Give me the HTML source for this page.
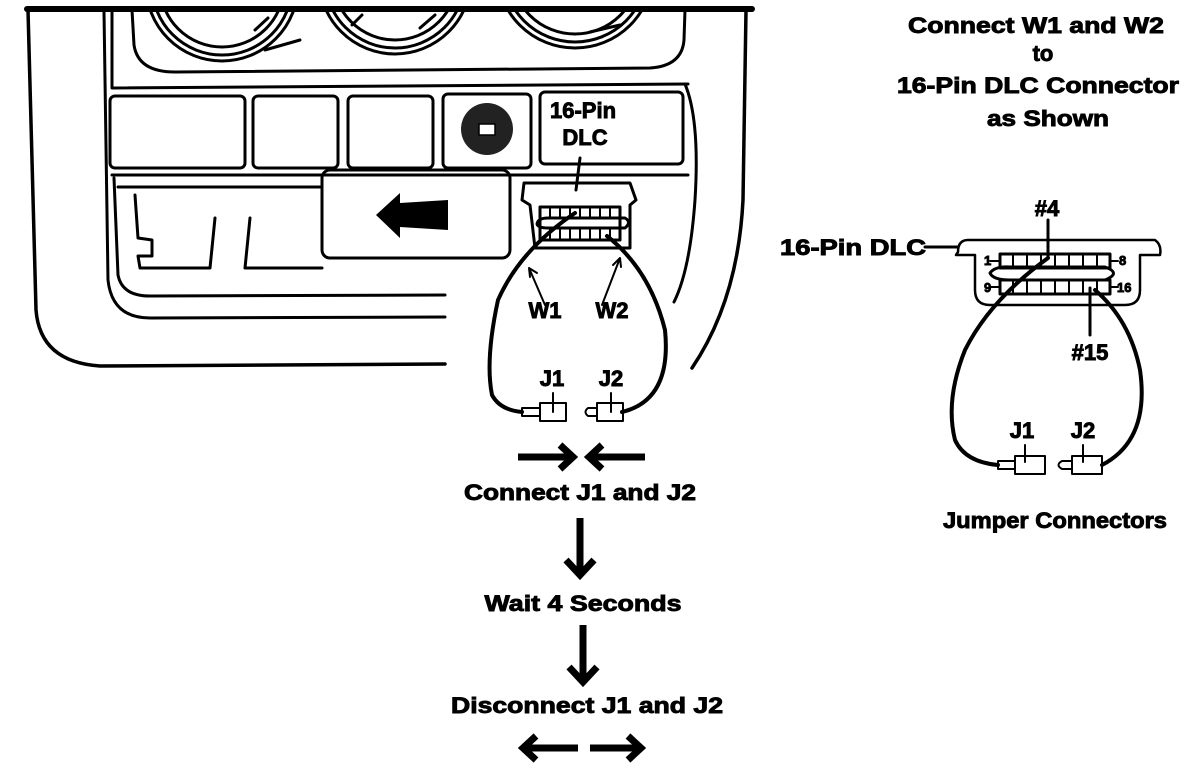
<!DOCTYPE html>
<html><head><style>html,body{margin:0;padding:0;background:#fff}svg{display:block}text{font-family:"Liberation Sans",sans-serif;font-weight:bold;fill:#000;stroke:#000;stroke-width:0.9}</style></head>
<body>
<svg width="1200" height="776" viewBox="0 0 1200 776" xmlns="http://www.w3.org/2000/svg">
<defs><clipPath id="gc"><rect x="134" y="11" width="550" height="60"/></clipPath></defs>
<g fill="none" stroke="#000" stroke-width="3" stroke-linecap="round" stroke-linejoin="round">
<path d="M27 9 H752" stroke-width="6"/>
<path d="M28 10 L36 310 Q40 362 100 366 L445 364" stroke-width="3.5"/>
<path d="M104 12 L108 280 Q112 318 150 318 L445 317"/>
<path d="M114 178 L118 275 Q122 296 150 296 L445 295"/>
<path d="M132 10 L134 45 Q138 72 175 72 L650 68 Q682 66 684 40 L685 10"/>
<path d="M112 12 L112 88 L688 84"/>
<g clip-path="url(#gc)">
<circle cx="222" cy="-15" r="62"/><circle cx="222" cy="-15" r="70"/><circle cx="222" cy="-15" r="76"/>
<circle cx="395" cy="-22" r="62"/><circle cx="395" cy="-22" r="70"/><circle cx="395" cy="-22" r="76"/>
<circle cx="575" cy="-30" r="64"/><circle cx="575" cy="-30" r="72"/><circle cx="575" cy="-30" r="78"/>
</g>
<path d="M255 30 L268 18 M352 25 L362 15 M420 28 L435 15 M265 50 L300 40 M590 32 L620 25" stroke-width="3"/>
<path d="M746 10 L743 200 Q738 300 692 368" stroke-width="3.5"/>
<path d="M685 84 Q700 120 695 200 Q690 270 674 302"/>
<rect x="110" y="96" width="135" height="72" rx="5"/>
<rect x="253" y="96" width="85" height="72" rx="5"/>
<rect x="348" y="96" width="85" height="72" rx="5"/>
<rect x="443" y="94" width="88" height="74" rx="5"/>
<rect x="540" y="92" width="143" height="72" rx="5"/>
<circle cx="487" cy="129" r="26" fill="#222" stroke="none"/>
<path d="M112 175 H688"/>
<path d="M118 187 H320"/>
<rect x="322" y="170" width="188" height="88" rx="8"/>
<path d="M135 195 L138 238 L152 240 L152 256 L138 256 L140 268 L210 268 L215 218"/>
<path d="M250 218 L245 268 L322 268"/>
<path d="M524 183 H630 L636 200 L630 205 L630 248 H535 L530 205 L522 200 Z"/>
<rect x="540" y="207" width="80" height="33"/>
<path d="M537 224 Q538 218 548 218 H625 Q632 222 625 228 H548 Q538 228 537 224Z"/>
<path d="M550 207V217 M560 207V217 M570 207V217 M580 207V217 M590 207V217 M600 207V217 M610 207V217 M550 229V240 M560 229V240 M570 229V240 M580 229V240 M590 229V240 M600 229V240 M610 229V240" stroke-width="2"/>
<path d="M580 158 L576 190"/>
<path d="M575 213 Q520 250 498 300 Q485 360 492 395 Q500 410 522 412" stroke-width="4"/>
<path d="M607 236 Q650 270 665 330 Q672 400 622 412" stroke-width="4"/>
<path d="M545 305 L529 268 M529 268 L530 277 M529 268 L537 273" stroke-width="2"/>
<path d="M602 305 L620 258 M620 258 L613 265 M620 258 L621 267" stroke-width="2"/>
<rect x="540" y="403" width="26" height="18" stroke-width="2"/>
<path d="M540 408 H522 V416 H540" stroke-width="2"/>
<path d="M553 393 V412" stroke-width="2"/>
<rect x="597" y="403" width="26" height="18" stroke-width="2"/>
<path d="M597 408 H588 Q583 412 588 416 H597" stroke-width="2"/>
<path d="M611 393 V412" stroke-width="2"/>
<path d="M925 247 H958"/>
<path d="M958 252 Q958 240 968 240 H1155 Q1162 245 1160 255 H1140 V290 Q1140 305 1125 305 H990 Q975 305 975 290 V255 H956 Z" stroke-width="2.5"/>
<rect x="1000" y="254" width="110" height="14"/>
<rect x="1000" y="280" width="110" height="14"/>
<path d="M990 273 Q995 266 1010 267 H1105 Q1122 273 1105 280 H1010 Q993 280 990 273Z"/>
<path d="M1013 254V268 M1027 254V268 M1041 254V268 M1055 254V268 M1069 254V268 M1083 254V268 M1097 254V268 M1013 280V294 M1027 280V294 M1041 280V294 M1055 280V294 M1069 280V294 M1083 280V294 M1097 280V294" stroke-width="2"/>
<path d="M990 261H1000 M1110 261H1118 M990 287H1000 M1110 287H1118" stroke-width="2"/>
<path d="M1048 220 V258"/>
<path d="M1090 288 V335"/>
<path d="M1048 258 Q990 300 965 350 Q945 400 955 440 Q965 462 998 465" stroke-width="4"/>
<path d="M1095 290 Q1130 320 1140 370 Q1150 440 1102 465" stroke-width="4"/>
<rect x="1015" y="456" width="30" height="18" stroke-width="2"/>
<path d="M1015 461 H998 V469 H1015" stroke-width="2"/>
<path d="M1025 445 V462" stroke-width="2"/>
<rect x="1072" y="456" width="30" height="18" stroke-width="2"/>
<path d="M1072 461 H1062 Q1055 465 1062 469 H1072" stroke-width="2"/>
<path d="M1083 445 V462" stroke-width="2"/>
</g>
<path d="M376 215 L400 193 L400 203 L448 200 L448 230 L400 227 L400 238 Z" fill="#000"/>
<rect x="479" y="124" width="16" height="11" fill="#fff" stroke="#000" stroke-width="1.5"/>
<g fill="none" stroke="#000" stroke-width="7">
<path d="M518 457 H570 M560 445 L573 457 L560 469"/>
<path d="M645 457 H592 M602 445 L589 457 L602 469"/>
<path d="M580 518 V575 M566 560 L580 575 L594 560"/>
<path d="M583 625 V682 M569 667 L583 682 L597 667"/>
<path d="M578 748 H525 M536 736 L523 748 L536 760"/>
<path d="M590 748 H640 M628 736 L641 748 L628 760"/>
</g>
<g font-size="22">
<text x="580" y="500" text-anchor="middle" textLength="232" lengthAdjust="spacingAndGlyphs">Connect J1 and J2</text>
<text x="583" y="611" text-anchor="middle" textLength="197" lengthAdjust="spacingAndGlyphs">Wait 4 Seconds</text>
<text x="587" y="713" text-anchor="middle" textLength="272" lengthAdjust="spacingAndGlyphs">Disconnect J1 and J2</text>
<text x="1036" y="33" text-anchor="middle" textLength="256" lengthAdjust="spacingAndGlyphs">Connect W1 and W2</text>
<text x="1043" y="61" text-anchor="middle">to</text>
<text x="1038" y="93" text-anchor="middle" textLength="282" lengthAdjust="spacingAndGlyphs">16-Pin DLC Connector</text>
<text x="1048" y="126" text-anchor="middle" textLength="122" lengthAdjust="spacingAndGlyphs">as Shown</text>
<text x="780" y="255" textLength="146" lengthAdjust="spacingAndGlyphs">16-Pin DLC</text>
<text x="1055" y="528" text-anchor="middle" textLength="224" lengthAdjust="spacingAndGlyphs">Jumper Connectors</text>
<text x="1047" y="216" text-anchor="middle">#4</text>
<text x="1090" y="360" text-anchor="middle">#15</text>
<text x="1022" y="438" text-anchor="middle">J1</text>
<text x="1083" y="438" text-anchor="middle">J2</text>
<text x="583" y="118" text-anchor="middle">16-Pin</text>
<text x="585" y="145" text-anchor="middle">DLC</text>
<text x="545" y="318" text-anchor="middle">W1</text>
<text x="612" y="318" text-anchor="middle">W2</text>
<text x="552" y="386" text-anchor="middle">J1</text>
<text x="611" y="386" text-anchor="middle">J2</text>
</g>
<g font-size="13">
<text x="984" y="265">1</text><text x="1119" y="265">8</text>
<text x="984" y="292">9</text><text x="1117" y="292">16</text>
</g>
</svg>
</body></html>
